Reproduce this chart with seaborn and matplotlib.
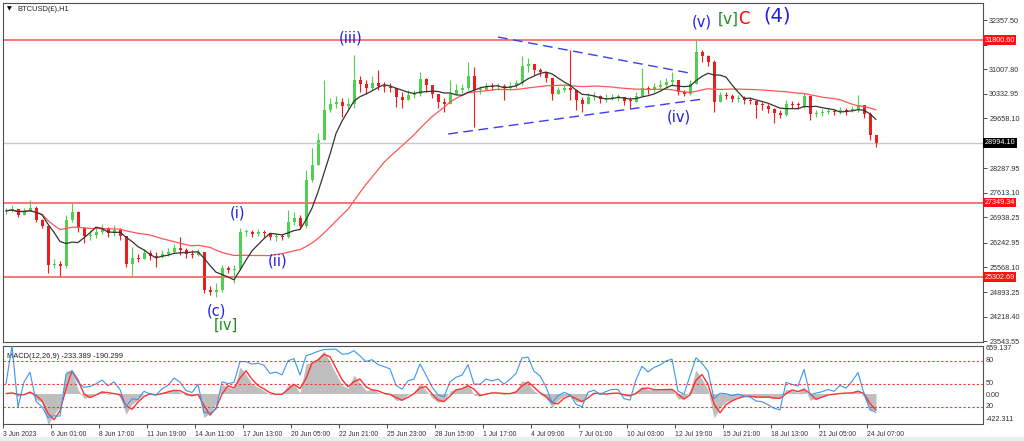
import numpy as np
import pandas as pd
import matplotlib
matplotlib.use("Agg")
import matplotlib.pyplot as plt
import matplotlib.transforms as mtransforms
from matplotlib.patches import Rectangle
import seaborn as sns

# --- 数据: BTCUSD(£) H1, 从图上读出, 每根蜡烛约合 8 根小时K线 ---
close = [
    27120, 27170, 27010, 27120, 27200, 26870, 26710, 25630, 25660, 25610,
    26870, 27090, 26650, 26430, 26460, 26540, 26650, 26510, 26600, 26430,
    25660, 25830, 25800, 25960, 25880, 25850, 25940, 25990, 26100, 26050,
    25940, 25910, 25990, 24950, 24890, 24950, 25550, 25500, 25530, 26540,
    26540, 26490, 26540, 26510, 26400, 26430, 26400, 26810, 26920, 26700,
    27970, 28380, 29060, 29890, 30050, 30110, 30000, 30050, 30710, 30600,
    30490, 30630, 30550, 30520, 30490, 30240, 30160, 30300, 30330, 30740,
    30570, 30330, 30110, 30050, 30330, 30440, 30490, 30820, 30440, 30440,
    30550, 30520, 30550, 30490, 30550, 30630, 31100, 31150, 30990, 30930,
    30770, 30330, 30440, 30490, 30440, 30160, 30050, 30240, 30270, 30190,
    30220, 30240, 30240, 30130, 30110, 30270, 30490, 30440, 30520, 30570,
    30660, 30710, 30380, 30330, 30600, 31480, 31370, 31210, 30110, 30300,
    30270, 30190, 30220, 30160, 30130, 30020, 30000, 29920, 29810, 29750,
    30050, 30020, 30000, 30270, 29780, 29810, 29830, 29860, 29830, 29890,
    29860, 29920, 30020, 29780, 29200, 28994,
]
high = [
    27200, 27280, 27170, 27200, 27420, 27250, 26900, 26710, 25800, 25740,
    27010, 27340, 27120, 26650, 26600, 26650, 26760, 26680, 26730, 26650,
    26130, 26130, 25940, 26070, 26050, 25990, 26050, 26100, 26210, 26400,
    26100, 26050, 26070, 25990, 25060, 25140, 25630, 25610, 25630, 26650,
    26620, 26600, 26620, 26600, 26510, 26510, 26490, 27140, 27090, 27010,
    28240, 28850, 29260, 30710, 30220, 30270, 30220, 30220, 31400, 30820,
    30710, 30820, 30990, 30660, 30630, 30490, 30380, 30440, 30440, 30930,
    30770, 30490, 30300, 30220, 30710, 30600, 30600, 31210, 31070, 30550,
    30630, 30630, 30630, 30600, 30660, 30710, 31370, 31310, 31120, 31040,
    30930, 30770, 30520, 30600, 31530, 30380, 30240, 30350, 30380, 30300,
    30330, 30330, 30330, 30240, 30240, 30380, 31040, 30550, 30630, 30710,
    30770, 30930, 30550, 30440, 30710, 31810, 31530, 31400, 31260, 30380,
    30380, 30330, 30300, 30270, 30240, 30130, 30110, 30050, 29940, 29890,
    30160, 30130, 30110, 30350, 30300, 29890, 29920, 29940, 29920, 29970,
    29940, 30000, 30300, 29940, 29830, 29170,
]
low = [
    27030, 27090, 26950, 27010, 27120, 26810, 26650, 25420, 25550, 25330,
    25550, 26810, 26540, 26240, 26320, 26380, 26490, 26400, 26430, 26320,
    25580, 25330, 25720, 25800, 25770, 25580, 25830, 25880, 25960, 25910,
    25830, 25830, 25880, 24870, 24810, 24760, 24890, 25420, 25140, 25500,
    26430, 26400, 26430, 26400, 26320, 26290, 26320, 26380, 26730, 26620,
    26650, 27910, 28790, 29060, 29830, 29940, 29700, 29890, 29940, 30380,
    30330, 30440, 30440, 30380, 30380, 29970, 29940, 30190, 30220, 30270,
    30380, 30220, 29940, 29830, 30050, 30300, 30350, 30440, 29420, 30330,
    30440, 30440, 30440, 30160, 30440, 30490, 30570, 30930, 30850, 30820,
    30660, 30160, 30330, 30380, 30160, 29890, 29830, 30110, 30160, 30080,
    30110, 30160, 30130, 30020, 29940, 30160, 30270, 30330, 30380, 30460,
    30490, 30550, 30300, 30270, 30300, 30600, 31210, 31100, 29830, 30160,
    30190, 30110, 30110, 30050, 30050, 29670, 29890, 29810, 29530, 29670,
    29720, 29940, 29920, 29940, 29610, 29700, 29720, 29780, 29750, 29780,
    29750, 29830, 29830, 29670, 29060, 28870,
]

# 右侧价格刻度 (MT4 自动刻度, 照抄; 31682.65 被红色标签盖住)
price_ticks = [32357.50, 31682.65, 31007.80, 30332.95, 29658.10, 28287.95,
               27613.10, 26938.25, 26242.95, 25568.10, 24893.25, 24218.40, 23543.55]
hidden_ticks = [31682.65]
# 水平支撑/阻力线, 以及当前价
red_levels = [31800.60, 27349.34, 25302.69]
bid_price = 28994.10

# 时间轴标签 (每个标签间隔 64 根小时K线 = 8 根蜡烛)
time_labels = ["3 Jun 2023", "6 Jun 01:00", "8 Jun 17:00", "11 Jun 19:00", "14 Jun 11:00",
               "17 Jun 13:00", "20 Jun 05:00", "22 Jun 21:00", "25 Jun 23:00", "28 Jun 15:00",
               "1 Jul 17:00", "4 Jul 09:00", "7 Jul 01:00", "10 Jul 03:00", "12 Jul 19:00",
               "15 Jul 21:00", "18 Jul 13:00", "21 Jul 05:00", "24 Jul 07:00"]

# 三角形整理的两条蓝色虚线 (蜡烛序号, 价格)
trend_upper = [(82.0, 31890), (114.0, 30900)]
trend_lower = [(73.7, 29230), (116.2, 30190)]

# 波浪标注: 文字, 蜡烛序号, 价格, 颜色, 字号
wave_labels = [
    ("(iii)", 57.5, 31860, "#1E1EE6", 10.5),
    ("(v)", 116.0, 32300, "#1E1EE6", 10.5),
    ("[v]", 120.3, 32390, "#1E8C1E", 11),
    ("C", 123.0, 32390, "#FF0000", 12),
    ("(4)", 128.5, 32470, "#1E1EE6", 14),
    ("(i)", 38.5, 27060, "#1E1EE6", 10.5),
    ("(ii)", 45.3, 25740, "#1E1EE6", 10.5),
    ("(c)", 35.0, 24370, "#1E1EE6", 10.5),
    ("[iv]", 36.7, 23990, "#1E8C1E", 10.5),
    ("(iv)", 112.2, 29700, "#1E1EE6", 10.5),
]

# MACD 面板的纵轴范围 (来自右侧标签)
macd_top, macd_bottom = 659.137, -422.311
rsi_levels = [80, 50, 20]

# --- 指标计算 ---
df = pd.DataFrame({"close": close, "high": high, "low": low})
df["x"] = np.arange(len(df))
df["open"] = df["close"].shift(1).fillna(df["close"].iloc[0])
df["high"] = df[["high", "open", "close"]].max(axis=1)
df["low"] = df[["low", "open", "close"]].min(axis=1)
df["ma_fast"] = df["close"].rolling(6, min_periods=1).mean()
df["ma_slow"] = df["close"].rolling(25, min_periods=1).mean()

# MACD(12,26,9) 换算到 8 小时一根
ema_fast = df["close"].ewm(span=1.5, adjust=False).mean()
ema_slow = df["close"].ewm(span=3.25, adjust=False).mean()
df["macd"] = ema_fast - ema_slow
df["signal"] = df["macd"].rolling(2, min_periods=1).mean()

# 蓝线: RSI
delta = df["close"].diff().fillna(0)
gain = delta.clip(lower=0).ewm(alpha=1 / 5, adjust=False).mean()
loss = (-delta.clip(upper=0)).ewm(alpha=1 / 5, adjust=False).mean()
df["rsi"] = 100 - 100 / (1 + gain / (loss + 1e-9))
df.loc[0, "rsi"] = 50

# --- 绘图 ---
sns.set_theme(style="white")
plt.rcParams["font.family"] = ["Liberation Sans", "DejaVu Sans"]
axis_fs = 5.2
time_fs = 4.9

fig = plt.figure(figsize=(10.24, 4.41), dpi=100, facecolor="white")
W, H = 1024, 441
ax = fig.add_axes([3 / W, (H - 342) / H, 980 / W, 339 / H])
ax2 = fig.add_axes([3 / W, (H - 424) / H, 980 / W, 78 / H])
# 窗口底部的灰色边
fig.add_artist(Rectangle((0, 0), 1, 4 / H, transform=fig.transFigure, color="#EDEDED", zorder=0))

n_right = 162.83
for a in (ax, ax2):
    a.set_xlim(-0.5, n_right)
    for s in a.spines.values():
        s.set_color("#505050")
        s.set_linewidth(0.8)

# 蜡烛
up = df["close"] >= df["open"]
colors = np.where(up, "#4CD24C", "#EE1C1C")
ax.vlines(df["x"], df["low"], df["high"], colors=colors, linewidth=0.8)
body = df["close"] - df["open"]
body = body.where(body.abs() > 20, 20)
ax.bar(df["x"], body, bottom=df["open"], width=0.5, color=colors, linewidth=0)

# 均线
sns.lineplot(x=df["x"], y=df["ma_slow"], ax=ax, color="#FF5555", linewidth=0.9)
sns.lineplot(x=df["x"], y=df["ma_fast"], ax=ax, color="#333333", linewidth=0.9)

# 水平线
for lv in red_levels:
    ax.axhline(lv, color="#FF6A6A", linewidth=1.3, zorder=1)
ax.axhline(bid_price, color="#C8C8C8", linewidth=1.0, zorder=1)

# 趋势线
for line in (trend_upper, trend_lower):
    xs, ys = zip(*line)
    ax.plot(xs, ys, color="#3C3CF0", linewidth=1.0, dashes=(7, 4))

# 波浪文字
for txt, xi, yp, col, fs in wave_labels:
    ax.text(xi, yp, txt, color=col, fontsize=fs, ha="center", va="center", family="DejaVu Sans")

ax.set_ylim(23522, 32824)
ax.set_xticks([])
ax.set_xlabel("")
ax.set_ylabel("")
ax.yaxis.tick_right()
ax.set_yticks(price_ticks)
ax.set_yticklabels(["" if v in hidden_ticks else f"{v:.2f}" for v in price_ticks])
ax.tick_params(axis="y", labelsize=axis_fs, length=3, width=0.6, pad=1.5, colors="#303030", right=True)

# 右侧价格标签框
trans = mtransforms.blended_transform_factory(ax.transAxes, ax.transData)
for lv in red_levels:
    ax.text(1.0015, lv, f"{lv:.2f}", transform=trans, fontsize=axis_fs, color="white",
            va="center", ha="left", bbox=dict(boxstyle="square,pad=0.2", fc="#FF1010", ec="none"))
ax.text(1.0015, bid_price, f"{bid_price:.2f}", transform=trans, fontsize=axis_fs, color="white",
        va="center", ha="left", bbox=dict(boxstyle="square,pad=0.2", fc="#000000", ec="none"))

ax.text(0.004, 0.982, "\u25BC", transform=ax.transAxes, fontsize=4.5, color="black",
        va="center", family="DejaVu Sans")
ax.text(0.0145, 0.982, "BTCUSD(£),H1", transform=ax.transAxes, fontsize=5.4, color="#202020", va="center")

# --- MACD 面板 ---
ax2.fill_between(df["x"], 0, df["macd"], color="#BEBEBE", linewidth=0)
sns.lineplot(x=df["x"], y=df["signal"], ax=ax2, color="#FF3030", linewidth=1.0)
ax2.set_ylim(macd_bottom, macd_top)
ax2.set_yticks([])
ax2.set_ylabel("")
ax2.set_xlabel("")

ax3 = ax2.twinx()
sns.lineplot(x=df["x"], y=df["rsi"], ax=ax3, color="#3A96F0", linewidth=0.8)
for lv in rsi_levels:
    ax3.axhline(lv, color="#FF3030", linewidth=0.8, linestyle=(0, (2, 2)))
ax3.set_ylim(-2.2, 99.5)
ax3.set_yticks([])
ax3.set_ylabel("")
for s in ax3.spines.values():
    s.set_visible(False)

t2 = mtransforms.blended_transform_factory(ax2.transAxes, ax2.transData)
t3 = mtransforms.blended_transform_factory(ax3.transAxes, ax3.transData)
ax2.text(1.003, macd_top * 0.94, f"{macd_top:.3f}", transform=t2, fontsize=axis_fs, va="center", color="#303030")
ax2.text(1.003, -25, "0.00", transform=t2, fontsize=axis_fs, va="center", color="#303030")
ax2.text(1.003, macd_bottom * 0.86, f"{macd_bottom:.3f}", transform=t2, fontsize=axis_fs, va="center", color="#303030")
for lv in rsi_levels:
    ax3.text(1.003, lv, str(lv), transform=t3, fontsize=axis_fs, va="center", color="#303030")

ax2.text(0.004, 0.86, "MACD(12,26,9) -233.389 -190.299", transform=ax2.transAxes,
         fontsize=5.4, color="#202020", va="center")

ax2.set_xticks([k * 8 - 0.5 for k in range(len(time_labels))])
ax2.set_xticklabels(time_labels, ha="left")
ax2.tick_params(axis="x", labelsize=time_fs, length=3, width=0.6, pad=2, colors="#303030", bottom=True)

fig.savefig("out.png", dpi=100, facecolor="white")
